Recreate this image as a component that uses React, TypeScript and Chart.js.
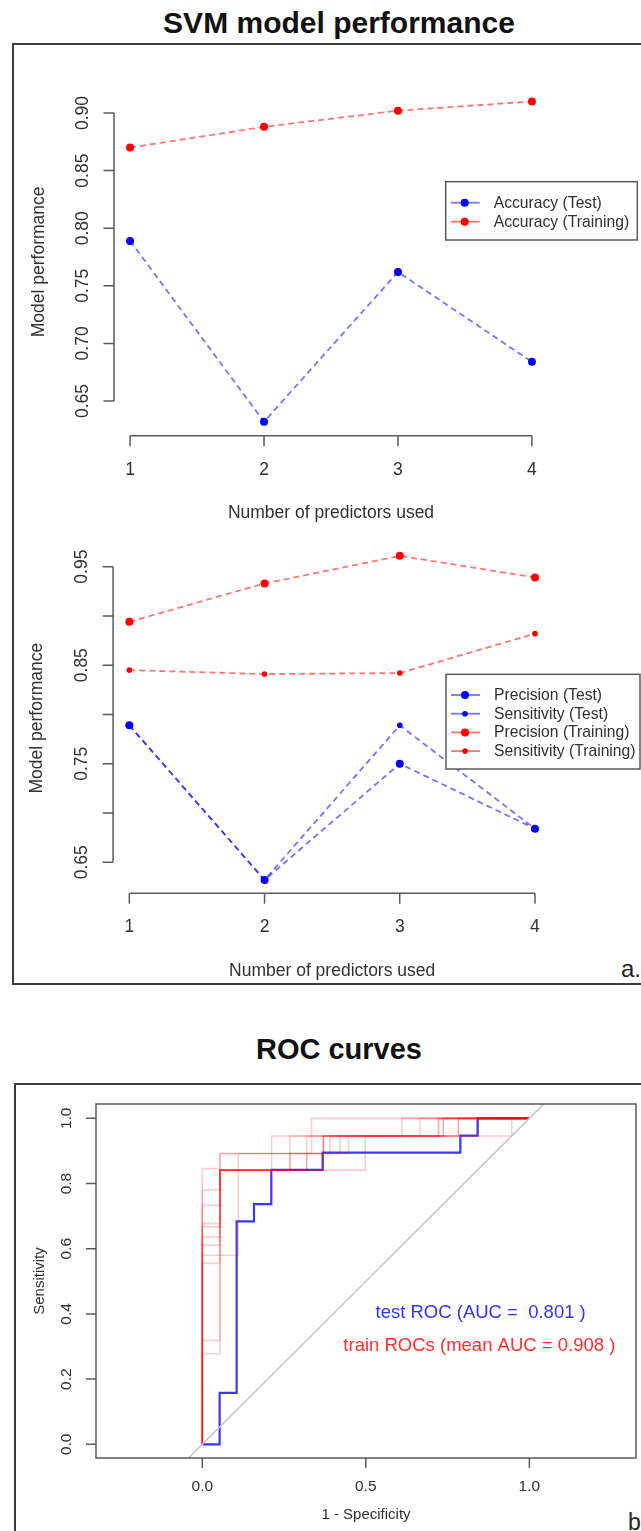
import React, { useEffect, useRef } from 'react';
import { Chart, registerables } from 'chart.js';

Chart.register(...registerables);

// ---------------- DATA ----------------
const predictors = [1, 2, 3, 4];
const accuracyTest = [0.789, 0.632, 0.762, 0.684];
const accuracyTraining = [0.870, 0.888, 0.902, 0.910];

const precisionTest = [0.789, 0.632, 0.750, 0.684];
const sensitivityTest = [0.789, 0.632, 0.789, 0.684];
const precisionTraining = [0.894, 0.933, 0.961, 0.939];
const sensitivityTraining = [0.845, 0.841, 0.842, 0.882];

const predictorTicks = [1, 2, 3, 4];
const predictorTickLabels = ['1', '2', '3', '4'];
const accuracyTicks = [0.65, 0.70, 0.75, 0.80, 0.85, 0.90];
const accuracyTickLabels = ['0.65', '0.70', '0.75', '0.80', '0.85', '0.90'];
const perfTicks = [0.65, 0.70, 0.75, 0.80, 0.85, 0.90, 0.95];
const perfTickLabels = ['0.65', '', '0.75', '', '0.85', '', '0.95'];

const rocXTicks = [0, 0.5, 1.0];
const rocXTickLabels = ['0.0', '0.5', '1.0'];
const rocYTicks = [0, 0.2, 0.4, 0.6, 0.8, 1.0];
const rocYTickLabels = ['0.0', '0.2', '0.4', '0.6', '0.8', '1.0'];

const testRocFpr = [0, 0.053, 0.053, 0.105, 0.105, 0.158, 0.158, 0.211, 0.211, 0.368, 0.368, 0.789, 0.789, 0.842, 0.842, 1.0];
const testRocTpr = [0, 0, 0.158, 0.158, 0.684, 0.684, 0.737, 0.737, 0.842, 0.842, 0.895, 0.895, 0.947, 0.947, 1.0, 1.0];

type Pt = [number, number];
const trainRoc1: Pt[] = [[0, 0], [0, 0.846], [0.054, 0.846], [0.054, 0.892], [0.212, 0.892], [0.212, 0.946], [0.61, 0.946], [0.61, 1], [1, 1]];
const trainRoc2: Pt[] = [[0, 0], [0, 0.78], [0.054, 0.78], [0.054, 0.892], [0.334, 0.892], [0.334, 1], [1, 1]];
const trainRoc3: Pt[] = [[0, 0], [0, 0.733], [0.054, 0.733], [0.054, 0.841], [0.268, 0.841], [0.268, 0.946], [0.666, 0.946], [0.666, 1], [1, 1]];
const trainRoc4: Pt[] = [[0, 0], [0, 0.677], [0.054, 0.677], [0.054, 0.841], [0.37, 0.841], [0.37, 0.946], [0.737, 0.946], [0.737, 1], [1, 1]];
const trainRoc5: Pt[] = [[0, 0], [0, 0.667], [0.054, 0.667], [0.054, 0.841], [0.319, 0.841], [0.319, 0.892], [0.39, 0.892], [0.39, 0.946], [0.722, 0.946], [0.722, 1], [1, 1]];
const trainRoc6: Pt[] = [[0, 0], [0, 0.636], [0.054, 0.636], [0.054, 0.841], [0.212, 0.841], [0.212, 0.892], [0.421, 0.892], [0.421, 0.946], [0.783, 0.946], [0.783, 1], [1, 1]];
const trainRoc7: Pt[] = [[0, 0], [0, 0.611], [0.054, 0.611], [0.054, 0.841], [0.37, 0.841], [0.37, 0.946], [0.839, 0.946], [0.839, 1], [1, 1]];
const trainRoc8: Pt[] = [[0, 0], [0, 0.58], [0.11, 0.58], [0.11, 0.892], [0.447, 0.892], [0.447, 0.946], [0.737, 0.946], [0.737, 1], [1, 1]];
const trainRoc9: Pt[] = [[0, 0], [0, 0.555], [0.054, 0.555], [0.054, 0.841], [0.498, 0.841], [0.498, 0.946], [0.946, 0.946], [0.946, 1], [1, 1]];
const trainRoc10: Pt[] = [[0, 0], [0, 0.319], [0.054, 0.319], [0.054, 0.841], [0.319, 0.841], [0.319, 0.946], [0.722, 0.946], [0.722, 1], [1, 1]];
const trainRoc11: Pt[] = [[0, 0], [0, 0.278], [0.054, 0.278], [0.054, 0.841], [0.268, 0.841], [0.268, 0.892], [0.37, 0.892], [0.37, 0.946], [0.783, 0.946], [0.783, 1], [1, 1]];
const trainRocs = [trainRoc1, trainRoc2, trainRoc3, trainRoc4, trainRoc5, trainRoc6, trainRoc7, trainRoc8, trainRoc9, trainRoc10, trainRoc11];

const identityLine: Pt[] = [[-0.5, -0.5], [1.5, 1.5]];

const testAucText = 'test ROC (AUC =  0.801 )';
const trainAucText = 'train ROCs (mean AUC = 0.908 )';

// ---------------- STYLE ----------------
const FONT = '"Liberation Sans", Arial, Helvetica, sans-serif';
const BLUE = '#0000ff';
const RED = '#ff0000';
const BLUE_LINE = 'rgba(0,0,255,0.55)';
const RED_LINE = 'rgba(255,0,0,0.55)';
const AXIS = '#5a5a5a';
const TEXT = '#303030';

const toXY = (xs: number[], ys: number[]) => xs.map((x, i) => ({ x, y: ys[i] }));
const ptsXY = (p: Pt[]) => p.map(([x, y]) => ({ x, y }));

interface AxisSpec {
  xTicks: number[]; xLabels: string[]; yTicks: number[]; yLabels: string[];
  xTitle: string; yTitle: string; font: number; titleFont: number;
  yLabelOff: number; yTitleOff: number; xLabelOff: number; xTitleOff: number;
  box: boolean; tickLen: number;
}

function axesPlugin(spec: AxisSpec) {
  return {
    id: 'rAxes',
    afterDraw(chart: any) {
      const { ctx, chartArea: a } = chart;
      const xs = chart.scales.x;
      const ys = chart.scales.y;
      const xPix = spec.xTicks.map((v) => xs.getPixelForValue(v));
      const yPix = spec.yTicks.map((v) => ys.getPixelForValue(v));
      ctx.save();
      ctx.strokeStyle = AXIS;
      ctx.lineWidth = 1.5;
      ctx.beginPath();
      if (spec.box) {
        ctx.rect(a.left, a.top, a.right - a.left, a.bottom - a.top);
      } else {
        ctx.moveTo(xPix[0], a.bottom);
        ctx.lineTo(xPix[xPix.length - 1], a.bottom);
        ctx.moveTo(a.left, yPix[0]);
        ctx.lineTo(a.left, yPix[yPix.length - 1]);
      }
      xPix.forEach((p) => { ctx.moveTo(p, a.bottom); ctx.lineTo(p, a.bottom + spec.tickLen); });
      yPix.forEach((p) => { ctx.moveTo(a.left, p); ctx.lineTo(a.left - spec.tickLen, p); });
      ctx.stroke();
      ctx.fillStyle = TEXT;
      ctx.textAlign = 'center';
      ctx.textBaseline = 'middle';
      ctx.font = `${spec.font}px ${FONT}`;
      xPix.forEach((p, i) => ctx.fillText(spec.xLabels[i], p, a.bottom + spec.xLabelOff));
      yPix.forEach((p, i) => {
        if (!spec.yLabels[i]) return;
        ctx.save();
        ctx.translate(a.left - spec.yLabelOff, p);
        ctx.rotate(-Math.PI / 2);
        ctx.fillText(spec.yLabels[i], 0, 0);
        ctx.restore();
      });
      ctx.font = `${spec.titleFont}px ${FONT}`;
      ctx.fillText(spec.xTitle, (a.left + a.right) / 2, a.bottom + spec.xTitleOff);
      ctx.save();
      ctx.translate(a.left - spec.yTitleOff, (a.top + a.bottom) / 2);
      ctx.rotate(-Math.PI / 2);
      ctx.fillText(spec.yTitle, 0, 0);
      ctx.restore();
      ctx.restore();
    },
  };
}

interface LegendEntry { label: string; line: string; point: string; r: number; }
interface LegendSpec { left: number; top: number; width: number; height: number; firstRow: number; rowH: number; font: number; entries: LegendEntry[]; }

function legendPlugin(spec: LegendSpec) {
  return {
    id: 'rLegend',
    afterDraw(chart: any) {
      const { ctx } = chart;
      ctx.save();
      ctx.fillStyle = '#ffffff';
      ctx.fillRect(spec.left, spec.top, spec.width, spec.height);
      ctx.strokeStyle = AXIS;
      ctx.lineWidth = 1.5;
      ctx.strokeRect(spec.left, spec.top, spec.width, spec.height);
      ctx.font = `${spec.font}px ${FONT}`;
      ctx.textAlign = 'left';
      ctx.textBaseline = 'middle';
      spec.entries.forEach((e, i) => {
        const y = spec.top + spec.firstRow + i * spec.rowH;
        ctx.strokeStyle = e.line;
        ctx.lineWidth = 1.8;
        ctx.beginPath();
        ctx.moveTo(spec.left + 5, y);
        ctx.lineTo(spec.left + 34, y);
        ctx.stroke();
        ctx.fillStyle = e.point;
        ctx.beginPath();
        ctx.arc(spec.left + 19, y, e.r, 0, Math.PI * 2);
        ctx.fill();
        ctx.fillStyle = TEXT;
        ctx.fillText(e.label, spec.left + 48, y + 0.5);
      });
      ctx.restore();
    },
  };
}

function aucTextPlugin() {
  return {
    id: 'aucText',
    afterDraw(chart: any) {
      const { ctx } = chart;
      const xs = chart.scales.x;
      const ys = chart.scales.y;
      ctx.save();
      ctx.font = `18.5px ${FONT}`;
      ctx.textAlign = 'center';
      ctx.textBaseline = 'middle';
      ctx.fillStyle = '#3232ff';
      ctx.fillText(testAucText, xs.getPixelForValue(0.851), ys.getPixelForValue(0.402));
      ctx.fillStyle = '#ff2d2d';
      ctx.fillText(trainAucText, xs.getPixelForValue(0.847), ys.getPixelForValue(0.301));
      ctx.restore();
    },
  };
}

function lineDs(label: string, xs: number[], ys: number[], line: string, point: string, r: number) {
  return {
    label,
    data: toXY(xs, ys),
    borderColor: line,
    borderWidth: 1.8,
    borderDash: [6, 4],
    pointRadius: r,
    pointHoverRadius: r,
    pointBackgroundColor: point,
    pointBorderWidth: 0,
    fill: false,
    tension: 0,
  };
}

function baseOptions(padding: any, xr: number[], yr: number[]) {
  return {
    animation: false,
    responsive: false,
    maintainAspectRatio: false,
    events: [],
    layout: { padding },
    plugins: { legend: { display: false }, tooltip: { enabled: false }, title: { display: false } },
    scales: {
      x: { type: 'linear', min: xr[0], max: xr[1], display: false },
      y: { type: 'linear', min: yr[0], max: yr[1], display: false },
    },
  };
}

const W = 641;

function AccuracyChart() {
  const ref = useRef<HTMLCanvasElement>(null);
  useEffect(() => {
    const chart = new Chart(ref.current as HTMLCanvasElement, {
      type: 'line',
      data: {
        datasets: [
          lineDs('Accuracy (Test)', predictors, accuracyTest, BLUE_LINE, BLUE, 4),
          lineDs('Accuracy (Training)', predictors, accuracyTraining, RED_LINE, RED, 4),
        ],
      },
      options: baseOptions({ left: 114, right: 93, top: 28, bottom: 94.2 }, [0.88, 4.12], [0.6198, 0.9217]) as any,
      plugins: [
        axesPlugin({
          xTicks: predictorTicks, xLabels: predictorTickLabels, yTicks: accuracyTicks, yLabels: accuracyTickLabels,
          xTitle: 'Number of predictors used', yTitle: 'Model performance', font: 17.5, titleFont: 17.5,
          yLabelOff: 31.3, yTitleOff: 74.5, xLabelOff: 34, xTitleOff: 77, box: false, tickLen: 10.5,
        }),
        legendPlugin({
          left: 445.7, top: 121.7, width: 191.6, height: 58.3, firstRow: 21, rowH: 19, font: 15.7,
          entries: [
            { label: 'Accuracy (Test)', line: BLUE_LINE, point: BLUE, r: 4 },
            { label: 'Accuracy (Training)', line: RED_LINE, point: RED, r: 4 },
          ],
        }),
      ],
    } as any);
    return () => chart.destroy();
  }, []);
  return <canvas ref={ref} width={W} height={470} style={{ position: 'absolute', left: 0, top: 60, width: W, height: 470 }} />;
}

function PerformanceChart() {
  const ref = useRef<HTMLCanvasElement>(null);
  useEffect(() => {
    const chart = new Chart(ref.current as HTMLCanvasElement, {
      type: 'line',
      data: {
        datasets: [
          lineDs('Precision (Test)', predictors, precisionTest, BLUE_LINE, BLUE, 4),
          lineDs('Sensitivity (Test)', predictors, sensitivityTest, BLUE_LINE, BLUE, 2.8),
          lineDs('Precision (Training)', predictors, precisionTraining, RED_LINE, RED, 4),
          lineDs('Sensitivity (Training)', predictors, sensitivityTraining, RED_LINE, RED, 2.8),
        ],
      },
      options: baseOptions({ left: 113.1, right: 89.8, top: 13, bottom: 106.7 }, [0.88, 4.12], [0.6185, 0.974]) as any,
      plugins: [
        axesPlugin({
          xTicks: predictorTicks, xLabels: predictorTickLabels, yTicks: perfTicks, yLabels: perfTickLabels,
          xTitle: 'Number of predictors used', yTitle: 'Model performance', font: 17.5, titleFont: 17.5,
          yLabelOff: 31.4, yTitleOff: 76.4, xLabelOff: 34, xTitleOff: 77.4, box: false, tickLen: 10.5,
        }),
        legendPlugin({
          left: 446, top: 144.3, width: 194, height: 94.7, firstRow: 20.7, rowH: 18.7, font: 15.7,
          entries: [
            { label: 'Precision (Test)', line: BLUE_LINE, point: BLUE, r: 4 },
            { label: 'Sensitivity (Test)', line: BLUE_LINE, point: BLUE, r: 2.8 },
            { label: 'Precision (Training)', line: RED_LINE, point: RED, r: 4 },
            { label: 'Sensitivity (Training)', line: RED_LINE, point: RED, r: 2.8 },
          ],
        }),
      ],
    } as any);
    return () => chart.destroy();
  }, []);
  return <canvas ref={ref} width={W} height={470} style={{ position: 'absolute', left: 0, top: 530, width: W, height: 470 }} />;
}

function RocChart() {
  const ref = useRef<HTMLCanvasElement>(null);
  useEffect(() => {
    const rocDs = (data: any, color: string, width: number) => ({
      data, borderColor: color, borderWidth: width, pointRadius: 0, pointHoverRadius: 0, fill: false, tension: 0,
    });
    const chart = new Chart(ref.current as HTMLCanvasElement, {
      type: 'line',
      data: {
        datasets: [
          rocDs(ptsXY(identityLine), '#c4c4c4', 1.5),
          ...trainRocs.map((r) => rocDs(ptsXY(r), 'rgba(255,0,0,0.2)', 1.6)),
          rocDs(toXY(testRocFpr, testRocTpr), 'rgba(20,20,255,0.85)', 2.2),
        ],
      },
      options: baseOptions({ left: 96, right: 5, top: 34, bottom: 73 }, [-0.325, 1.326], [-0.042, 1.044]) as any,
      plugins: [
        axesPlugin({
          xTicks: rocXTicks, xLabels: rocXTickLabels, yTicks: rocYTicks, yLabels: rocYTickLabels,
          xTitle: '1 - Specificity', yTitle: 'Sensitivity', font: 15.5, titleFont: 15,
          yLabelOff: 29.3, yTitleOff: 56, xLabelOff: 28.7, xTitleOff: 57, box: true, tickLen: 10,
        }),
        aucTextPlugin(),
      ],
    } as any);
    return () => chart.destroy();
  }, []);
  return <canvas ref={ref} width={W} height={461} style={{ position: 'absolute', left: 0, top: 1070, width: W, height: 461 }} />;
}

export default function App() {
  useEffect(() => {
    document.body.style.margin = '0';
  }, []);
  const frame = { position: 'absolute' as const, border: '2px solid #3c3c3c', boxSizing: 'border-box' as const, width: 700 };
  const heading = {
    position: 'absolute' as const, left: 139, width: 400, textAlign: 'center' as const,
    fontFamily: FONT, fontWeight: 700 as const, color: '#111', whiteSpace: 'nowrap' as const,
  };
  return (
    <div style={{ position: 'relative', width: W, height: 1531, overflow: 'hidden', background: '#fff' }}>
      <style>{'body{margin:0}'}</style>
      <div style={{ ...heading, top: 8, fontSize: 30, lineHeight: '30px' }}>SVM model performance</div>
      <div style={{ ...frame, left: 12, top: 43, height: 942 }} />
      <div style={{ position: 'absolute', left: 621, top: 956.7, fontFamily: FONT, fontSize: 24, lineHeight: '24px', color: '#222' }}>a.</div>
      <div style={{ ...heading, top: 1034.5, fontSize: 29, lineHeight: '29px' }}>ROC curves</div>
      <div style={{ ...frame, left: 14, top: 1083, height: 600 }} />
      <div style={{ position: 'absolute', left: 628, top: 1510.5, fontFamily: FONT, fontSize: 23, lineHeight: '23px', color: '#222' }}>b</div>
      <AccuracyChart />
      <PerformanceChart />
      <RocChart />
    </div>
  );
}
